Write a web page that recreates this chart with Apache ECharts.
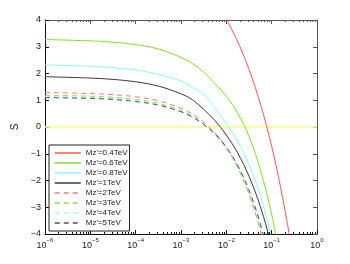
<!DOCTYPE html>
<html>
<head>
<meta charset="utf-8">
<script src="https://cdn.jsdelivr.net/npm/echarts@6/dist/echarts.min.js"></script>
<style>
html,body{margin:0;padding:0;background:#fff;}
#c{width:350px;height:264px;}
</style>
</head>
<body>
<div id="c"></div>
<script>
// ---- data ----
const xMain = [1e-6, 1e-5, 3.16e-5, 1e-4, 3.16e-4, 1e-3, 1.78e-3, 3.16e-3, 5.62e-3, 1e-2, 1.78e-2, 3.16e-2, 5.62e-2, 1e-1, 1.78e-1];
const xRed = [6.31e-3, 1e-2, 1.58e-2, 2.51e-2, 3.98e-2, 6.31e-2, 1e-1, 1.58e-1, 2.51e-1, 3.16e-1];

const sMz04 = [4.58, 4.03, 3.38, 2.60, 1.68, 0.58, -0.72, -2.27, -4.12, -5.2];
const sMz06 = [3.27, 3.22, 3.17, 3.08, 2.92, 2.60, 2.38, 2.05, 1.62, 1.15, 0.52, -0.34, -1.59, -3.26, -5.5];
const sMz08 = [2.32, 2.27, 2.22, 2.13, 1.97, 1.72, 1.50, 1.22, 0.72, 0.13, -0.52, -1.40, -2.56, -4.14, -6.1];
const sMz1  = [1.88, 1.83, 1.78, 1.69, 1.53, 1.24, 1.02, 0.66, 0.24, -0.30, -0.97, -1.84, -2.97, -4.46, -6.3];
const sMz2  = [1.29, 1.25, 1.21, 1.13, 0.98, 0.70, 0.48, 0.18, -0.22, -0.76, -1.50, -2.50, -3.88, -5.8, -8.5];
const sMz3  = [1.19, 1.15, 1.11, 1.03, 0.89, 0.62, 0.41, 0.11, -0.28, -0.80, -1.52, -2.50, -3.85, -5.7, -8.3];
const sMz4  = [1.14, 1.10, 1.06, 0.99, 0.85, 0.59, 0.39, 0.11, -0.27, -0.78, -1.47, -2.42, -3.74, -5.6, -8.0];
const sMz5  = [1.10, 1.07, 1.03, 0.95, 0.82, 0.57, 0.37, 0.10, -0.26, -0.76, -1.43, -2.36, -3.62, -5.4, -7.8];

const zeroX = [1e-6, 1];
const zeroS = [0, 0];

const seriesNames = ["Mz'=0.4TeV", "Mz'=0.6TeV", "Mz'=0.8TeV", "Mz'=1TeV", "Mz'=2TeV", "Mz'=3TeV", "Mz'=4TeV", "Mz'=5TeV"];

const xMajorTicks = [1e-6, 1e-5, 1e-4, 1e-3, 1e-2, 1e-1, 1];
const xMinorTicks = [];
for (let d = -6; d <= -1; d++) {
  for (let k = 2; k <= 9; k++) xMinorTicks.push(k * Math.pow(10, d));
}
const yMin = -4, yMax = 4, yStep = 1;

// ---- chart ----
const FONT = 'Liberation Sans';
const pairs = (xs, ys) => xs.map((x, i) => [x, ys[i]]);

function mk(name, xs, ys, color, dashed) {
  return {
    name: name, type: 'line', xAxisIndex: 0, yAxisIndex: 0,
    data: pairs(xs, ys), symbol: 'none', smooth: 0.35,
    lineStyle: { color: color, width: 1, type: dashed ? [5, 4] : 'solid' },
    itemStyle: { color: color, opacity: 0 },
    z: 3
  };
}

function xLabel(v) {
  const e = Math.round(Math.log10(v));
  return '{b|10}{e|' + (e < 0 ? '\u2212' + (-e) : String(e)) + '}';
}

const logBase = { type: 'log', logBase: 10, min: 1e-6, max: 1, gridIndex: 0, splitLine: { show: false } };

const chart = echarts.init(document.getElementById('c'), null, { renderer: 'canvas' });
chart.setOption({
  animation: false,
  backgroundColor: '#fff',
  grid: { left: 45, top: 20, right: 33, bottom: 30, containLabel: false, outerBoundsMode: 'none' },
  legend: {
    data: seriesNames,
    orient: 'vertical', left: 49, top: 145,
    itemWidth: 26, itemHeight: 10, itemGap: 0,
    padding: [3, 2, 3, 5],
    borderColor: '#222', borderWidth: 1, borderRadius: 0,
    backgroundColor: '#fff',
    itemStyle: { opacity: 0 },
    lineStyle: { width: 1.5 },
    textStyle: { fontFamily: FONT, fontSize: 8, color: '#222', lineHeight: 10 },
    selectedMode: false
  },
  xAxis: [
    Object.assign({}, logBase, {
      position: 'bottom',
      axisLine: { show: true, onZero: false, lineStyle: { color: '#111', width: 1 } },
      axisTick: { show: true, inside: true, length: 4, customValues: xMajorTicks, lineStyle: { color: '#111' } },
      axisLabel: {
        show: true, margin: 3, customValues: xMajorTicks, formatter: xLabel,
        rich: {
          b: { fontFamily: FONT, fontSize: 9, color: '#222', padding: [4, 0, 0, 0] },
          e: { fontFamily: FONT, fontSize: 6, color: '#222', padding: [0, 0, 6, 0] }
        }
      }
    }),
    Object.assign({}, logBase, {
      position: 'bottom',
      axisLine: { show: false, onZero: false },
      axisTick: { show: true, inside: true, length: 2, customValues: xMinorTicks, lineStyle: { color: '#111' } },
      axisLabel: { show: false }
    }),
    Object.assign({}, logBase, {
      position: 'top',
      axisLine: { show: true, onZero: false, lineStyle: { color: '#555', width: 1 } },
      axisTick: { show: true, inside: true, length: 4, customValues: xMajorTicks, lineStyle: { color: '#555' } },
      axisLabel: { show: false }
    }),
    Object.assign({}, logBase, {
      position: 'top',
      axisLine: { show: false, onZero: false },
      axisTick: { show: true, inside: true, length: 2, customValues: xMinorTicks, lineStyle: { color: '#555' } },
      axisLabel: { show: false }
    })
  ],
  yAxis: [
    {
      type: 'value', min: yMin, max: yMax, interval: yStep, position: 'left',
      name: 'S', nameLocation: 'middle', nameGap: 20, nameRotate: 90,
      nameTextStyle: { fontFamily: FONT, fontSize: 10, color: '#222' },
      axisLine: { show: true, onZero: false, lineStyle: { color: '#111', width: 1 } },
      axisTick: { show: true, inside: true, length: 4, lineStyle: { color: '#111' } },
      axisLabel: {
        show: true, margin: 4, fontFamily: FONT, fontSize: 9, color: '#222',
        formatter: v => (v < 0 ? '\u2212' + (-v) : String(v))
      },
      splitLine: { show: false }
    },
    {
      type: 'value', min: yMin, max: yMax, interval: yStep, position: 'right',
      axisLine: { show: true, onZero: false, lineStyle: { color: '#555', width: 1 } },
      axisTick: { show: true, inside: true, length: 4, lineStyle: { color: '#555' } },
      axisLabel: { show: false },
      splitLine: { show: false }
    }
  ],
  series: [
    {
      name: 'zero', type: 'line', xAxisIndex: 0, yAxisIndex: 0,
      data: pairs(zeroX, zeroS), symbol: 'none',
      lineStyle: { color: '#ffff80', width: 1.5 }, z: 2, silent: true
    },
    mk(seriesNames[0], xRed, sMz04, '#ff5555', false),
    mk(seriesNames[1], xMain, sMz06, '#7ddf2a', false),
    mk(seriesNames[2], xMain, sMz08, '#8ffce8', false),
    mk(seriesNames[3], xMain, sMz1, '#3a3a3a', false),
    mk(seriesNames[4], xMain, sMz2, '#ff7a7a', true),
    mk(seriesNames[5], xMain, sMz3, '#8ee04a', true),
    mk(seriesNames[6], xMain, sMz4, '#aaf8ec', true),
    mk(seriesNames[7], xMain, sMz5, '#505050', true)
  ]
});
</script>
</body>
</html>
